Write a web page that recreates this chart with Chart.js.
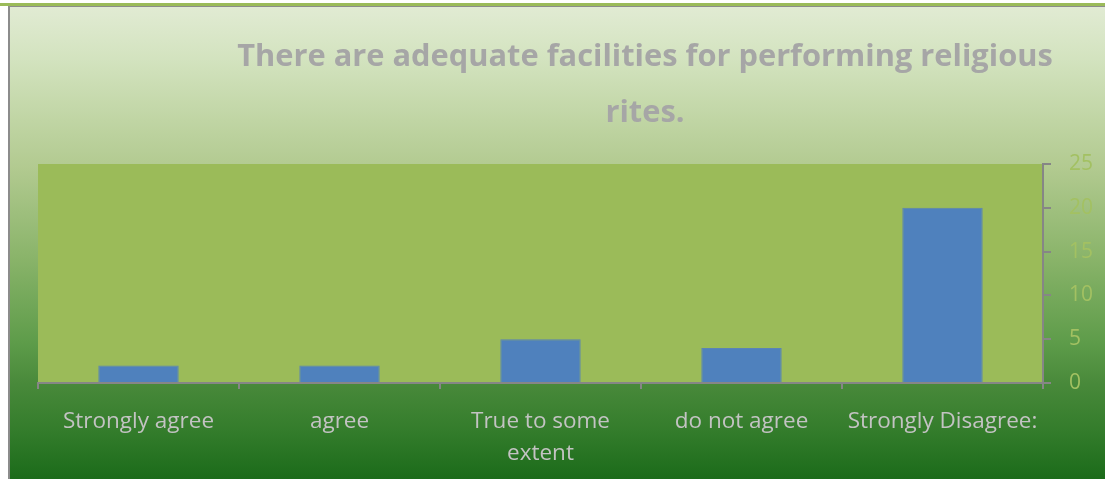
<!DOCTYPE html>
<html>
<head>
<meta charset="utf-8">
<script src="https://cdn.jsdelivr.net/npm/chart.js@4.4.1/dist/chart.umd.min.js"></script>
<style>
  body { margin: 0; background: #fff; width: 1105px; height: 479px; overflow: hidden; position: relative; }
  #topline { position: absolute; left: 0; top: 3px; width: 1105px; height: 3px; background: #9bbb59; }
  #frame { position: absolute; left: 8px; top: 6px; width: 1097px; height: 473px;
    background: linear-gradient(to bottom, #e1ebd3 0%, #d3e3bf 11%, #c0d5a4 24%, #b2ca90 34%, #8ab46a 53%, #5e9c4a 71%, #48893a 80%, #337c2b 90%, #1b6b1a 100%);
    border-top: 1px solid #8c8c8c; border-left: 2px solid #8c8c8c; box-sizing: border-box; }
  #chart { position: absolute; left: 8px; top: 6px; }
</style>
</head>
<body>
<div id="topline"></div>
<div id="frame"></div>
<canvas id="chart" width="1097" height="473"></canvas>
<script>
const titleLines = ['There are adequate facilities for performing religious', 'rites.'];
const categories = ['Strongly agree', 'agree', ['True to some', 'extent'], 'do not agree', 'Strongly Disagree:'];
const counts = [2, 2, 5, 4, 20];
const yTicks = [0, 5, 10, 15, 20, 25];

const FONT = '"Open Sans", "Noto Sans", sans-serif';

// plot area fill + title (title sits right of centre, like the original)
const decor = {
  id: 'decor',
  beforeDraw(chart) {
    const { ctx, chartArea: a } = chart;
    ctx.save();
    ctx.fillStyle = '#9bbb59';
    ctx.fillRect(a.left, a.top, a.right - a.left, a.bottom - a.top);
    ctx.restore();
  },
  afterDraw(chart) {
    const ctx = chart.ctx;
    ctx.save();
    ctx.fillStyle = '#a6a6a6';
    ctx.textAlign = 'center';
    ctx.textBaseline = 'middle';
    // fit first line to the reference width
    let size = 30;
    ctx.font = 'bold ' + size + 'px ' + FONT;
    const w = ctx.measureText(titleLines[0]).width;
    size = size * 816 / w;
    ctx.font = 'bold ' + size.toFixed(1) + 'px ' + FONT;
    ctx.fillText(titleLines[0], 637, 51);
    ctx.fillText(titleLines[1], 637, 107);
    ctx.restore();
  }
};

new Chart(document.getElementById('chart'), {
  type: 'bar',
  data: {
    labels: categories,
    datasets: [{
      data: counts,
      backgroundColor: '#4f81bd',
      borderColor: '#5b84b4',
      borderWidth: 1,
      categoryPercentage: 1.0,
      barPercentage: 0.4
    }]
  },
  options: {
    responsive: false,
    animation: false,
    layout: { padding: { left: 30, top: 158, right: 0, bottom: 0 } },
    plugins: { legend: { display: false }, title: { display: false }, tooltip: { enabled: false } },
    scales: {
      x: {
        grid: { display: true, drawOnChartArea: false, color: '#868686', tickLength: 6, lineWidth: 2 },
        border: { display: true, color: '#868686', width: 2 },
        ticks: { color: '#c3c3c3', font: { family: FONT, size: 22.5, lineHeight: 1.42 }, padding: 17, maxRotation: 0, autoSkip: false },
        afterFit(s) { s.height = 96; }
      },
      y: {
        position: 'right',
        min: 0, max: 25,
        afterBuildTicks(s) { s.ticks = yTicks.map(v => ({ value: v })); },
        grid: { display: true, drawOnChartArea: false, color: '#868686', tickLength: 8, lineWidth: 2 },
        border: { display: true, color: '#868686', width: 2 },
        ticks: { color: '#a3c162', font: { family: FONT, size: 21 }, padding: 18, crossAlign: 'near' },
        afterFit(s) { s.width = 62; }
      }
    }
  },
  plugins: [decor]
});
</script>
</body>
</html>
